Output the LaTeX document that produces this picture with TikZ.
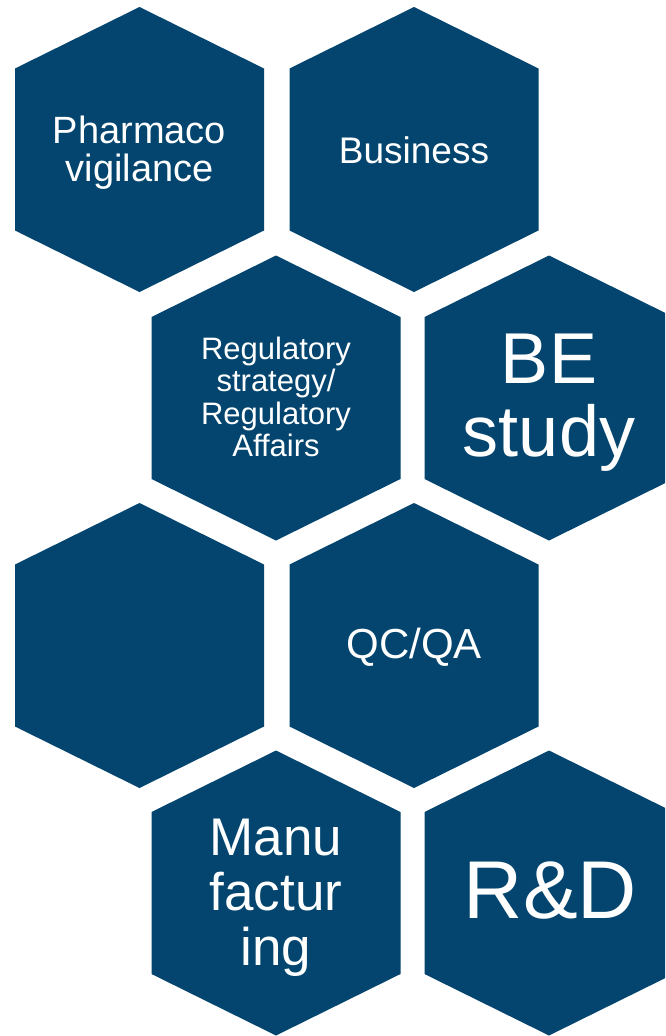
\documentclass[tikz,border=0pt]{standalone}
\usepackage{fontspec}
\setmainfont{Liberation Sans}
\definecolor{hexblue}{HTML}{03456E}
\tikzset{
  hexa/.pic={\fill[hexblue] (0,-142.5) -- (124.5,-81) -- (124.5,81) -- (0,142.5) -- (-124.5,81) -- (-124.5,-81) -- cycle;},
  hexlabel/.style={text=white, align=center, inner sep=0pt},
}
\begin{document}
\begin{tikzpicture}[x=1pt,y=-1pt]
\clip (0,0) rectangle (665,1036);
\fill[white] (0,0) rectangle (665,1036);
% hexagons
\pic at (139.5,149.5) {hexa};
\pic at (414,149.5) {hexa};
\pic at (276,398) {hexa};
\pic at (549,398) {hexa};
\pic at (139.5,645.5) {hexa};
\pic at (414,645.5) {hexa};
\pic at (276,893) {hexa};
\pic at (549,893) {hexa};
% labels
\node[hexlabel, font=\fontsize{38}{38}\selectfont] (pv) at (139.5,153) {Pharmaco\\vigilance};
\node[hexlabel, font=\fontsize{37}{38}\selectfont] (bus) at (414,150) {Business};
\node[hexlabel, font=\fontsize{31}{32.5}\selectfont] (reg) at (276,397) {Regulatory\\strategy/\\Regulatory\\Affairs};
\node[hexlabel, font=\fontsize{72}{73}\selectfont] (be) at (549,403) {BE\\study};
\node[hexlabel, font=\fontsize{42}{43}\selectfont] (qc) at (414,647) {QC/QA};
\node[hexlabel, font=\fontsize{53}{55}\selectfont] (manu) at (276,898) {Manu\\factur\\ing};
\node[hexlabel, font=\fontsize{82}{84}\selectfont] (rd) at (550.5,891) {R\&D};
\end{tikzpicture}
\end{document}
